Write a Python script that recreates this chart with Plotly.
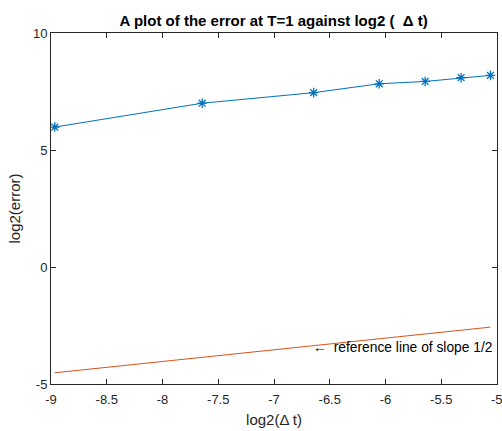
import plotly.graph_objects as go

log2_dt = [-8.966, -7.644, -6.644, -6.056, -5.644, -5.322, -5.059]
log2_err = [5.98, 7.00, 7.45, 7.83, 7.93, 8.09, 8.19]
ref_line = [-4.52, -3.86, -3.36, -3.07, -2.86, -2.70, -2.57]

x_ticks = [-9, -8.5, -8, -7.5, -7, -6.5, -6, -5.5, -5]
y_ticks = [-5, 0, 5, 10]

FONT = "Liberation Sans, Arial, sans-serif"
AX = "#262626"

fig = go.Figure()
fig.add_trace(go.Scatter(
    x=log2_dt, y=log2_err, mode="lines+markers",
    line=dict(color="#0072BD", width=1),
    marker=dict(symbol="asterisk-open", size=8, color="#0072BD",
                line=dict(color="#0072BD", width=1.3)),
    showlegend=False))
fig.add_trace(go.Scatter(
    x=log2_dt, y=ref_line, mode="lines",
    line=dict(color="#D95319", width=1),
    showlegend=False))

axis_common = dict(
    showgrid=False, zeroline=False, showline=True, linecolor=AX, linewidth=1,
    mirror="ticks", ticks="inside", ticklen=5, tickwidth=1, tickcolor=AX,
    tickfont=dict(family=FONT, size=13, color=AX),
)

# last x tick label drawn separately since it runs past the page edge
main_x_ticks = x_ticks[:-1]

fig.update_layout(
    width=502, height=431,
    margin=dict(l=51, r=5, t=33, b=47),
    paper_bgcolor="white", plot_bgcolor="white",
    font=dict(family=FONT, color=AX),
    title=dict(text="<b>A plot of the error at T=1 against log2 (  Δ t)</b>",
               x=0.545, xanchor="center", y=0.953, yanchor="middle",
               font=dict(family=FONT, size=15, color="black")),
    xaxis=dict(range=[-9, -5], tickvals=x_ticks,
               ticktext=[f"{v:g}" if v in main_x_ticks else "" for v in x_ticks],
               ticklabelstandoff=3,
               title=dict(text="log2(Δ t)", font=dict(family=FONT, size=15, color=AX), standoff=8),
               **axis_common),
    yaxis=dict(range=[-5, 10], tickvals=y_ticks,
               ticktext=[str(v) for v in y_ticks],
               title=dict(text="log2(error)", font=dict(family=FONT, size=15, color=AX), standoff=8),
               **axis_common),
    annotations=[
        dict(x=-6.665, y=-3.46, xref="x", yref="y",
             text="←\u2002reference line of slope 1/2", showarrow=False,
             xanchor="left", yanchor="middle",
             font=dict(family=FONT, size=13.8, color="black")),
        dict(x=x_ticks[-1], y=0, xref="x", yref="paper",
             text=f"{x_ticks[-1]:g}", showarrow=False,
             xanchor="center", yanchor="top", yshift=-6,
             font=dict(family=FONT, size=13, color=AX)),
    ],
)

fig.write_html("out.html")
